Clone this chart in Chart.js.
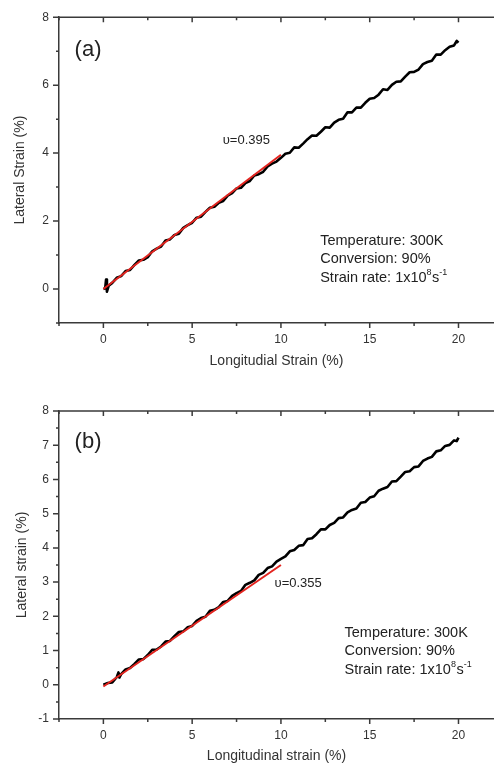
<!DOCTYPE html>
<html>
<head>
<meta charset="utf-8">
<script src="https://cdn.jsdelivr.net/npm/chart.js@4/dist/chart.umd.min.js"></script>
<style>
  html, body { margin: 0; padding: 0; background: #fff; }
  #wrapA { position: absolute; left: 0; top: 0; width: 494px; height: 383px; }
  #wrapB { position: absolute; left: 0; top: 383px; width: 494px; height: 382px; }
</style>
</head>
<body>
<div id="wrapA"><canvas id="chartA"></canvas></div>
<div id="wrapB"><canvas id="chartB"></canvas></div>
<script>
// panel (a)
const strainA = [0, 0.1, 0.15, 0.2, 0.3, 0.5, 0.75, 1, 1.25, 1.5, 1.75, 2, 2.25, 2.5, 2.75, 3, 3.25, 3.5, 3.75, 4,
  4.25, 4.5, 4.75, 5, 5.25, 5.5, 5.75, 6, 6.25, 6.5, 6.75, 7, 7.25, 7.5, 7.75, 8, 8.25, 8.5, 8.75, 9,
  9.25, 9.5, 9.75, 10, 10.25, 10.5, 10.75, 11, 11.25, 11.5, 11.75, 12, 12.25, 12.5, 12.75, 13, 13.25, 13.5, 13.75, 14,
  14.25, 14.5, 14.75, 15, 15.25, 15.5, 15.75, 16, 16.25, 16.5, 16.75, 17, 17.25, 17.5, 17.75, 18, 18.25, 18.5, 18.75, 19,
  19.25, 19.5, 19.75, 19.9, 20]
const lateralA = [0, 0.02, 0.28, -0.08, 0.1, 0.18, 0.33, 0.38, 0.53, 0.56, 0.71, 0.84, 0.86, 0.94, 1.11, 1.19, 1.25, 1.43, 1.46, 1.59,
  1.63, 1.8, 1.88, 1.95, 2.1, 2.13, 2.27, 2.39, 2.42, 2.54, 2.59, 2.75, 2.82, 2.96, 2.98, 3.12, 3.18, 3.34, 3.38, 3.45,
  3.61, 3.69, 3.75, 3.86, 3.98, 4.01, 4.17, 4.16, 4.28, 4.41, 4.52, 4.51, 4.63, 4.76, 4.75, 4.9, 4.98, 5.01, 5.2, 5.2,
  5.34, 5.34, 5.48, 5.6, 5.62, 5.72, 5.88, 5.86, 6.01, 6.1, 6.11, 6.25, 6.38, 6.39, 6.46, 6.62, 6.68, 6.72, 6.9, 6.9,
  7.03, 7.13, 7.17, 7.3, 7.25]
const fitA = [[0, 0], [10, 3.95]]

// panel (b)
const strainB = [0, 0.25, 0.5, 0.75, 0.85, 0.9, 1, 1.25, 1.5, 1.75, 2, 2.25, 2.5, 2.75, 3, 3.25, 3.5, 3.75, 4,
  4.25, 4.5, 4.75, 5, 5.25, 5.5, 5.75, 6, 6.25, 6.5, 6.75, 7, 7.25, 7.5, 7.75, 8, 8.25, 8.5, 8.75, 9,
  9.25, 9.5, 9.75, 10, 10.25, 10.5, 10.75, 11, 11.25, 11.5, 11.75, 12, 12.25, 12.5, 12.75, 13, 13.25, 13.5, 13.75, 14,
  14.25, 14.5, 14.75, 15, 15.25, 15.5, 15.75, 16, 16.25, 16.5, 16.75, 17, 17.25, 17.5, 17.75, 18, 18.25, 18.5, 18.75, 19,
  19.25, 19.5, 19.75, 19.9, 20]
const lateralB = [0, 0.05, 0.07, 0.22, 0.36, 0.21, 0.31, 0.45, 0.49, 0.61, 0.74, 0.75, 0.87, 1.02, 1.03, 1.12, 1.26, 1.28, 1.42,
  1.54, 1.56, 1.68, 1.72, 1.87, 1.95, 1.99, 2.16, 2.19, 2.27, 2.42, 2.45, 2.6, 2.68, 2.74, 2.92, 2.98, 3.05, 3.21, 3.27,
  3.41, 3.46, 3.6, 3.68, 3.75, 3.9, 3.94, 4.06, 4.08, 4.26, 4.28, 4.4, 4.54, 4.54, 4.67, 4.73, 4.87, 4.89, 5.04, 5.11,
  5.15, 5.32, 5.34, 5.47, 5.51, 5.67, 5.73, 5.78, 5.94, 5.95, 6.08, 6.22, 6.24, 6.36, 6.38, 6.54, 6.61, 6.66, 6.82, 6.85,
  6.98, 7.01, 7.14, 7.12, 7.22]
const fitB = [[0, -0.05], [10, 3.5]]

const xMajor = [0, 5, 10, 15, 20]
const xTicks = [-2.5, 0, 2.5, 5, 7.5, 10, 12.5, 15, 17.5, 20]
const yTicksA = [-1, 0, 1, 2, 3, 4, 5, 6, 7, 8]
const yMajorA = [0, 2, 4, 6, 8]
const yTicksB = [-1, -0.5, 0, 0.5, 1, 1.5, 2, 2.5, 3, 3.5, 4, 4.5, 5, 5.5, 6, 6.5, 7, 7.5, 8]
const yMajorB = [-1, 0, 1, 2, 3, 4, 5, 6, 7, 8]

const axisColor = '#3a3a3a'
const textColor = '#333'
const fontName = "'Liberation Sans', Arial, sans-serif"

function pts(xs, ys) {
  return xs.map((x, i) => ({ x: x, y: ys[i] }))
}

// tick marks and top border, drawn from the chart's scales
const frame = {
  id: 'frame',
  afterDraw(chart) {
    const ctx = chart.ctx
    const { x, y } = chart.scales
    const a = chart.chartArea
    const o = chart.options.plugins.frame
    ctx.save()
    ctx.strokeStyle = axisColor
    ctx.lineWidth = 1.5
    ctx.beginPath()
    ctx.moveTo(a.left, a.top)
    ctx.lineTo(a.right, a.top)
    o.xTicks.forEach(v => {
      const px = x.getPixelForValue(v)
      const len = o.xMajor.includes(v) ? 5 : 3
      ctx.moveTo(px, a.bottom)
      ctx.lineTo(px, a.bottom + len)
      ctx.moveTo(px, a.top)
      ctx.lineTo(px, a.top + len)
    })
    o.yTicks.forEach(v => {
      const py = y.getPixelForValue(v)
      const len = o.yMajor.includes(v) ? 6 : 3
      ctx.moveTo(a.left, py)
      ctx.lineTo(a.left - len, py)
    })
    ctx.stroke()
    ctx.restore()
  }
}

// text annotations placed in data coordinates
const notes = {
  id: 'notes',
  afterDatasetsDraw(chart) {
    const ctx = chart.ctx
    const { x, y } = chart.scales
    const o = chart.options.plugins.notes
    ctx.save()
    ctx.fillStyle = '#222'
    ctx.textBaseline = 'middle'
    ctx.textAlign = 'left'
    ctx.font = '22px ' + fontName
    ctx.fillText(o.panel, x.getPixelForValue(o.panelAt[0]), y.getPixelForValue(o.panelAt[1]))
    ctx.font = '13px ' + fontName
    ctx.fillText(o.nu, x.getPixelForValue(o.nuAt[0]), y.getPixelForValue(o.nuAt[1]))
    ctx.font = '14.5px ' + fontName
    const lx = x.getPixelForValue(o.infoAt[0])
    ctx.fillText('Temperature: 300K', lx, y.getPixelForValue(o.infoAt[1]))
    ctx.fillText('Conversion: 90%', lx, y.getPixelForValue(o.infoAt[2]))
    let py = y.getPixelForValue(o.infoAt[3])
    let px = lx
    const parts = [['Strain rate: 1x10', 0], ['8', 1], ['s', 0], ['-1', 1]]
    parts.forEach(p => {
      ctx.font = (p[1] ? '9px ' : '14.5px ') + fontName
      ctx.fillText(p[0], px, p[1] ? py - 6 : py)
      px += ctx.measureText(p[0]).width + (p[1] ? 0.5 : 0)
    })
    ctx.restore()
  }
}

function makeChart(id, strain, lateral, fit, cfg) {
  return new Chart(document.getElementById(id), {
    type: 'scatter',
    data: {
      datasets: [
        {
          data: pts(fit.map(p => p[0]), fit.map(p => p[1])),
          showLine: true,
          borderColor: '#e3241f',
          borderWidth: 2,
          pointRadius: 0
        },
        {
          data: pts(strain, lateral),
          showLine: true,
          borderColor: '#000',
          borderWidth: 2.6,
          borderJoinStyle: 'round',
          pointRadius: 0
        }
      ]
    },
    options: {
      responsive: true,
      maintainAspectRatio: false,
      animation: false,
      layout: { padding: { top: cfg.padTop, right: 0, left: 0, bottom: 0 } },
      plugins: {
        legend: { display: false },
        tooltip: { enabled: false },
        frame: { xTicks: xTicks, xMajor: xMajor, yTicks: cfg.yTicks, yMajor: cfg.yMajor },
        notes: cfg.notes
      },
      scales: {
        x: {
          type: 'linear',
          min: -2.5,
          max: 22,
          afterBuildTicks: s => { s.ticks = xTicks.map(v => ({ value: v })) },
          afterFit: s => { s.height = cfg.xHeight },
          grid: { display: false, drawTicks: false },
          border: { display: true, color: axisColor, width: 1.5 },
          ticks: {
            autoSkip: false,
            maxRotation: 0,
            padding: 9,
            color: textColor,
            font: { family: fontName, size: 12 },
            callback: v => xMajor.includes(v) ? String(v) : ''
          },
          title: {
            display: true,
            text: cfg.xTitle,
            color: textColor,
            font: { family: fontName, size: 14 },
            padding: { top: 0, bottom: cfg.xTitlePad }
          }
        },
        y: {
          type: 'linear',
          min: -1,
          max: 8,
          afterBuildTicks: s => { s.ticks = cfg.yTicks.map(v => ({ value: v })) },
          afterFit: s => { s.width = 59 },
          grid: { display: false, drawTicks: false },
          border: { display: true, color: axisColor, width: 1.5 },
          ticks: {
            autoSkip: false,
            padding: 10,
            color: textColor,
            font: { family: fontName, size: 12 },
            callback: v => cfg.yMajor.includes(v) ? String(v) : ''
          },
          title: {
            display: true,
            text: cfg.yTitle,
            color: textColor,
            font: { family: fontName, size: 14 },
            padding: { top: cfg.yTitlePad, bottom: 0 }
          }
        }
      }
    },
    plugins: [frame, notes]
  })
}

makeChart('chartA', strainA, lateralA, fitA, {
  padTop: 15, xHeight: 60, xTitlePad: 13.6, yTitlePad: 11.6,
  xTitle: 'Longitudial Strain (%)', yTitle: 'Lateral Strain (%)',
  yTicks: yTicksA, yMajor: yMajorA,
  notes: { panel: '(a)', panelAt: [-1.62, 7.04], nu: 'υ=0.395', nuAt: [6.72, 4.36], infoAt: [12.21, 1.4, 0.87, 0.31] }
})

makeChart('chartB', strainB, lateralB, fitB, {
  padTop: 28, xHeight: 46, xTitlePad: 0.6, yTitlePad: 13.6,
  xTitle: 'Longitudinal strain (%)', yTitle: 'Lateral strain (%)',
  yTicks: yTicksB, yMajor: yMajorB,
  notes: { panel: '(b)', panelAt: [-1.62, 7.1], nu: 'υ=0.355', nuAt: [9.64, 2.95], infoAt: [13.58, 1.52, 0.99, 0.43] }
})
</script>
</body>
</html>
